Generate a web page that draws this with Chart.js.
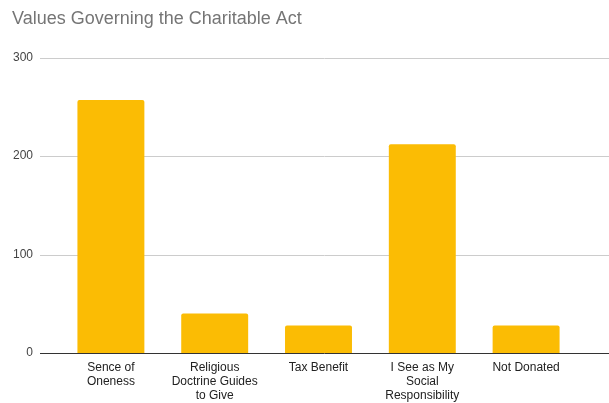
<!DOCTYPE html>
<html><head><meta charset="utf-8">
<script src="https://cdn.jsdelivr.net/npm/chart.js@4"></script>
<style>html,body{margin:0;padding:0;background:#fff;}#wrap{width:609px;height:403px;position:relative;}</style>
</head><body><div id="wrap"><canvas id="c"></canvas></div>
<script>
const chartTitle = "Values Governing the Charitable Act";
const categories = [["Sence of","Oneness"],["Religious","Doctrine Guides","to Give"],["Tax Benefit"],["I See as My","Social","Responsibility"],["Not Donated"]];
const values = [257, 40, 28, 212, 28];
const yTicks = [0, 100, 200, 300];

const extendGrid = {
  id: 'extendGrid',
  beforeDatasetsDraw(chart) {
    const ctx = chart.ctx, y = chart.scales.y;
    ctx.save();
    yTicks.forEach(v => {
      const py = Math.round(y.getPixelForValue(v)) + 0.5;
      ctx.beginPath();
      ctx.strokeStyle = v === 0 ? '#333333' : '#cccccc';
      ctx.lineWidth = 1;
      ctx.moveTo(40, py);
      ctx.lineTo(chart.width, py);
      ctx.stroke();
    });
    ctx.restore();
  }
};

new Chart(document.getElementById('c'), {
  type: 'bar',
  data: { labels: categories, datasets: [{ data: values, backgroundColor: '#fbbc04', borderRadius: 2, borderSkipped: 'bottom', categoryPercentage: 1, barPercentage: 0.645 }] },
  options: {
    responsive: true, maintainAspectRatio: false, animation: false,
    layout: { padding: { left: 12, right: 31, top: 0, bottom: 0 } },
    plugins: {
      legend: { display: false }, tooltip: { enabled: false },
      title: { display: true, text: chartTitle, align: 'start', color: '#757575',
        font: { family: 'Arial, "Liberation Sans"', size: 18, weight: 'normal' }, padding: { top: 8, bottom: 28 } }
    },
    scales: {
      x: { grid: { display: false, drawTicks: false }, border: { display: false },
        ticks: { color: '#222222', padding: 8, maxRotation: 0, autoSkip: false, font: { family: 'Arial, "Liberation Sans"', size: 12, lineHeight: 1.17 } },
        afterFit(s) { s.height = 50; } },
      y: { min: 0, max: 300, grid: { display: false, drawTicks: false }, border: { display: false },
        afterBuildTicks(s) { s.ticks = yTicks.map(v => ({ value: v })); },
        ticks: { color: '#444444', padding: 26, font: { family: 'Arial, "Liberation Sans"', size: 12 } },
        afterFit(s) { s.width = 47; } }
    }
  },
  plugins: [extendGrid]
});
</script></body></html>
